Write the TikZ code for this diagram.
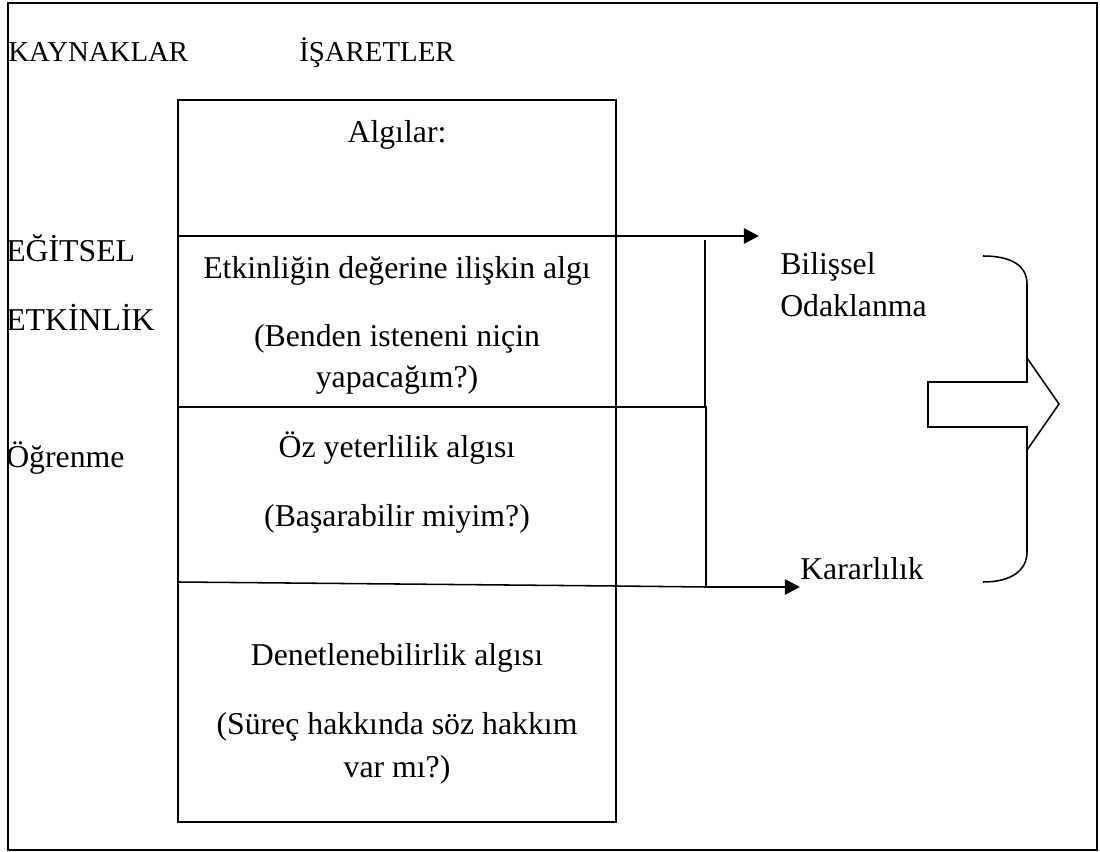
\documentclass[tikz,border=0pt]{standalone}
\usepackage{fontspec}
\setmainfont{Liberation Serif}
\usetikzlibrary{arrows.meta}

\tikzset{
  etiket/.style = {inner sep=0pt, font=\fontsize{22.6}{26}\selectfont},
  baslik/.style = {inner sep=0pt, font=\fontsize{20.5}{24}\selectfont},
  ince/.style   = {line width=1.1pt},
  kalin/.style  = {line width=1.8pt},
  okucu/.style  = {-{Triangle[length=0.38cm, width=0.38cm]}},
}

\begin{document}
\begin{tikzpicture}%
        [x=0.025cm, y=-0.025cm, line join=miter]
        \useasboundingbox (0,0) rectangle (1100,852);
        \draw[ince] (8,3) rectangle (1097,850);

        % ana kutu ve satir cizgileri
        \draw[ince] (178,100) rectangle (616,822);
        \coordinate (s1sol) at (178,236);  \coordinate (s1sag) at (616,236);
        \coordinate (s2sol) at (178,407);  \coordinate (s2sag) at (616,407);
        \coordinate (s3sol) at (178,582);  \coordinate (s3sag) at (616,586);
        \draw[ince] (s1sol) -- (s1sag);
        \draw[ince] (s2sol) -- (s2sag);
        \draw[ince] (s3sol) -- (s3sag);

        % basliklar
        \node[baslik, anchor=base west] (kaynak) at (8,62)   {KAYNAKLAR};
        \node[baslik, anchor=base west] (isaret) at (299,62) {İŞARETLER};

        % sol etiketler
        \node[etiket, anchor=base west] (egitsel)  at (6,262) {EĞİTSEL};
        \node[etiket, anchor=base west] (etkinlik) at (6,331) {ETKİNLİK};
        \node[etiket, anchor=base west] (ogrenme)  at (6,468) {Öğrenme};

        % kutu icindeki metinler
        \node[etiket, anchor=base] (algilar) at (397,143) {Algılar:};
        \node[etiket, anchor=base] (deger)   at (397,279) {Etkinliğin değerine ilişkin algı};
        \node[etiket, anchor=base] (nicin1)  at (397,347) {(Benden isteneni niçin};
        \node[etiket, anchor=base] (nicin2)  at (397,388) {yapacağım?)};
        \node[etiket, anchor=base] (ozyet)   at (397,458) {Öz yeterlilik algısı};
        \node[etiket, anchor=base] (basar)   at (397,527) {(Başarabilir miyim?)};
        \node[etiket, anchor=base] (denet)   at (397,665) {Denetlenebilirlik algısı};
        \node[etiket, anchor=base] (surec1)  at (397,734) {(Süreç hakkında söz hakkım};
        \node[etiket, anchor=base] (surec2)  at (397,777) {var mı?)};

        % sag etiketler
        \node[etiket, anchor=base west] (bilis)  at (780,275) {Bilişsel};
        \node[etiket, anchor=base west] (odak)   at (780,317) {Odaklanma};
        \node[etiket, anchor=base west] (karar)  at (800,580) {Kararlılık};

        % oklar
        \coordinate (ucbilis) at (759,236);
        \coordinate (uckarar) at (800,587);
        \draw[ince] (s1sag) -- (690,236);
        \draw[kalin, okucu] (690,236) -- (ucbilis);
        \draw[ince] (705,240) -- (705,407);
        \draw[kalin] (s2sag) -- (706,407) -- (706,587);
        \draw[ince] (s3sag) -- (706,587);
        \draw[kalin, okucu] (706,587) -- (uckarar);

        % kume parantezi ve blok ok
        \draw[ince] (983,256) .. controls (1012,256) and (1027,266) .. (1027,284)
                    -- (1027,382) -- (928,382) -- (928,427) -- (1027,427)
                    -- (1027,552) .. controls (1027,570) and (1012,582) .. (983,582);
        \draw[ince] (1027,358) -- (1059,404) -- (1027,450);
\end{tikzpicture}
\end{document}
